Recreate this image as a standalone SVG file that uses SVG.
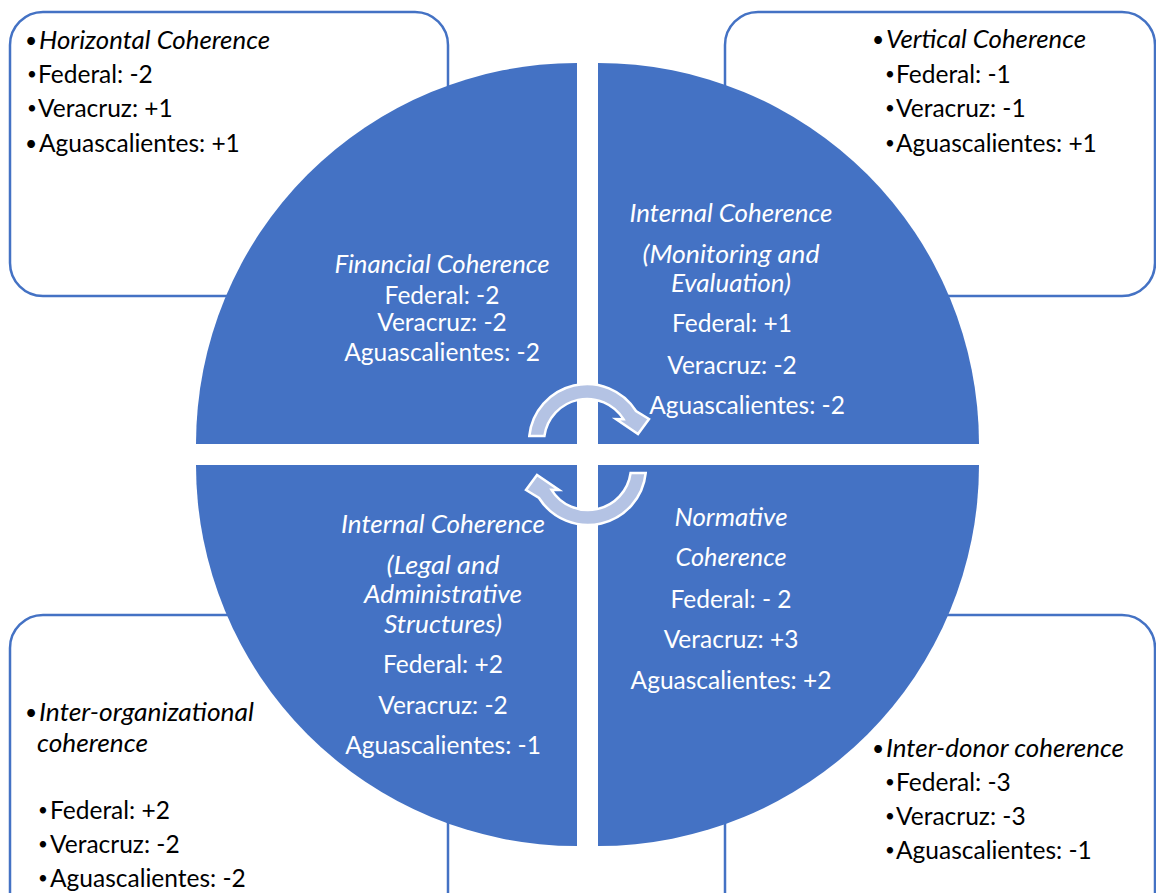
<svg xmlns="http://www.w3.org/2000/svg" width="1156" height="893" viewBox="0 0 1156 893">
<style>
.box{fill:#fff;stroke:#4472C4;stroke-width:2.5}
.q{fill:#4472C4}
.t{font-family:Lato,"Liberation Sans",sans-serif;font-size:24.5px;fill:#000}
.w{font-family:Lato,"Liberation Sans",sans-serif;font-size:24.5px;fill:#fff;text-anchor:middle}
.i{font-style:italic;font-size:25px}
.b{font-size:17px}
.bb{font-size:21px}
.arr{fill:#B4C3E4;stroke:#fff;stroke-width:2.5;stroke-linejoin:miter}
</style>
<rect width="1156" height="893" fill="#fff"/>
<g id="box-horizontal">
<rect class="box" x="10" y="12" width="438" height="284" rx="33"/>
<text class="t" y="49"><tspan x="25" dy="-1" class="bb">•</tspan><tspan x="39" dy="1" class="i" textLength="231" lengthAdjust="spacingAndGlyphs">Horizontal Coherence</tspan></text>
<text class="t" y="83"><tspan x="27" dy="-3" class="b">•</tspan><tspan x="38" dy="3">Federal: -2</tspan></text>
<text class="t" y="117"><tspan x="27" dy="-3" class="b">•</tspan><tspan x="38" dy="3">Veracruz: +1</tspan></text>
<text class="t" y="152"><tspan x="25" dy="-1" class="bb">•</tspan><tspan x="39" dy="1">Aguascalientes: +1</tspan></text>
</g>
<g id="box-vertical">
<rect class="box" x="725" y="12" width="430" height="284" rx="33"/>
<text class="t" y="48"><tspan x="872" dy="-1" class="bb">•</tspan><tspan x="886" dy="1" class="i" textLength="200" lengthAdjust="spacingAndGlyphs">Vertical Coherence</tspan></text>
<text class="t" y="83"><tspan x="885" dy="-3" class="b">•</tspan><tspan x="896" dy="3">Federal: -1</tspan></text>
<text class="t" y="117"><tspan x="885" dy="-3" class="b">•</tspan><tspan x="896" dy="3">Veracruz: -1</tspan></text>
<text class="t" y="152"><tspan x="885" dy="-3" class="b">•</tspan><tspan x="896" dy="3">Aguascalientes: +1</tspan></text>
</g>
<g id="box-interorg">
<rect class="box" x="10" y="615" width="438" height="310" rx="33"/>
<text class="t" y="721"><tspan x="25" dy="-1" class="bb">•</tspan><tspan x="39" dy="1" class="i" textLength="215" lengthAdjust="spacingAndGlyphs">Inter-organizational</tspan></text>
<text class="t i" x="37" y="752" textLength="111" lengthAdjust="spacingAndGlyphs">coherence</text>
<text class="t" y="819"><tspan x="38" dy="-3" class="b">•</tspan><tspan x="50" dy="3">Federal: +2</tspan></text>
<text class="t" y="853"><tspan x="38" dy="-3" class="b">•</tspan><tspan x="50" dy="3">Veracruz: -2</tspan></text>
<text class="t" y="887"><tspan x="38" dy="-3" class="b">•</tspan><tspan x="50" dy="3">Aguascalientes: -2</tspan></text>
</g>
<g id="box-interdonor">
<rect class="box" x="725" y="615" width="430" height="310" rx="33"/>
<text class="t" y="757"><tspan x="872" dy="-1" class="bb">•</tspan><tspan x="886" dy="1" class="i" textLength="238" lengthAdjust="spacingAndGlyphs">Inter-donor coherence</tspan></text>
<text class="t" y="791"><tspan x="885" dy="-3" class="b">•</tspan><tspan x="896" dy="3">Federal: -3</tspan></text>
<text class="t" y="825"><tspan x="885" dy="-3" class="b">•</tspan><tspan x="896" dy="3">Veracruz: -3</tspan></text>
<text class="t" y="859"><tspan x="885" dy="-3" class="b">•</tspan><tspan x="896" dy="3">Aguascalientes: -1</tspan></text>
</g>
<g id="q-financial">
<path class="q" d="M577,444 L196,444 A381,381 0 0 1 577,63 Z"/>
<text class="w i" x="442" y="273" textLength="215" lengthAdjust="spacingAndGlyphs">Financial Coherence</text>
<text class="w" x="442" y="304">Federal: -2</text>
<text class="w" x="442" y="331">Veracruz: -2</text>
<text class="w" x="442" y="361">Aguascalientes: -2</text>
</g>
<g id="q-internal-me">
<path class="q" d="M598,444 L598,63 A381,381 0 0 1 979,444 Z"/>
<text class="w i" x="731" y="222" textLength="203" lengthAdjust="spacingAndGlyphs">Internal Coherence</text>
<text class="w i" x="731" y="263" textLength="177" lengthAdjust="spacingAndGlyphs">(Monitoring and</text>
<text class="w i" x="731" y="292" textLength="120" lengthAdjust="spacingAndGlyphs">Evaluation)</text>
<text class="w" x="732" y="332">Federal: +1</text>
<text class="w" x="732" y="374">Veracruz: -2</text>
<text class="w" x="747" y="414">Aguascalientes: -2</text>
</g>
<g id="q-internal-legal">
<path class="q" d="M577,465 L577,846 A381,381 0 0 1 196,465 Z"/>
<text class="w i" x="443" y="533" textLength="204" lengthAdjust="spacingAndGlyphs">Internal Coherence</text>
<text class="w i" x="443" y="574" textLength="113" lengthAdjust="spacingAndGlyphs">(Legal and</text>
<text class="w i" x="443" y="603" textLength="158" lengthAdjust="spacingAndGlyphs">Administrative</text>
<text class="w i" x="443" y="633" textLength="118" lengthAdjust="spacingAndGlyphs">Structures)</text>
<text class="w" x="443" y="673">Federal: +2</text>
<text class="w" x="443" y="714">Veracruz: -2</text>
<text class="w" x="443" y="754">Aguascalientes: -1</text>
</g>
<g id="q-normative">
<path class="q" d="M598,465 L979,465 A381,381 0 0 1 598,846 Z"/>
<text class="w i" x="731" y="526" textLength="113" lengthAdjust="spacingAndGlyphs">Normative</text>
<text class="w i" x="731" y="566" textLength="111" lengthAdjust="spacingAndGlyphs">Coherence</text>
<text class="w" x="731" y="608">Federal: - 2</text>
<text class="w" x="731" y="648">Veracruz: +3</text>
<text class="w" x="731" y="689">Aguascalientes: +2</text>
</g>
<g id="connectors">
<path id="arrow-top" class="arr" d="M529.3,436 A58,58 0 0 1 636,411 L649,419 L638,434 L616,419 L623.5,419.2 A43,43 0 0 0 544.4,436 Z"/>
<path id="arrow-bottom" class="arr" transform="rotate(180 587.5 454.5)" d="M529.3,436 A58,58 0 0 1 636,411 L649,419 L638,434 L616,419 L623.5,419.2 A43,43 0 0 0 544.4,436 Z"/>
</g>
</svg>
